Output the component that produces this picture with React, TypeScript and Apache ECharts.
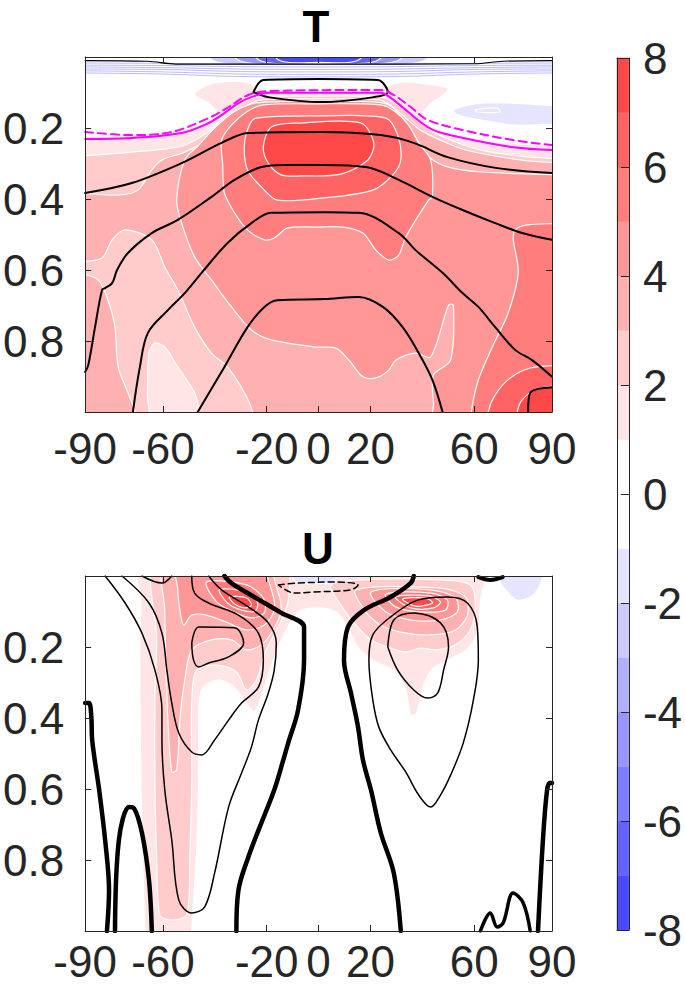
import React, { useEffect, useRef } from 'react';
import * as echarts from 'echarts';

// ---------------- axes / ticks ----------------
const latTicks = [-90, -60, -20, 0, 20, 60, 90];
const sigmaTicks = [0.2, 0.4, 0.6, 0.8];
const colorbarEdges = [-8, -7, -6, -5, -4, -3, -2, -1, 1, 2, 3, 4, 5, 6, 7, 8];

// ---------------- T panel: filled contour regions [lat, sigma] ----------------
const tFill1 = [[-100,1.05],[-100,0.223],[-93,0.223],[-72.0,0.220],[-54.7,0.208],[-45.1,0.189],[-39.3,0.163],[-42.0,0.132],[-47.8,0.107],[-45.1,0.087],[-40.1,0.073],[-31.7,0.068],[-25.9,0.076],[-22.8,0.096],[0,0.096],[23,0.096],[27.8,0.079],[33.6,0.070],[41.3,0.076],[50.1,0.090],[47.0,0.113],[43.2,0.132],[40.1,0.161],[42.4,0.192],[48.9,0.214],[62.4,0.234],[77.7,0.245],[93,0.251],[100,0.251],[100,1.05]];
const tFill2 = [[-100,1.05],[-100,0.279],[-93,0.279],[-72.0,0.268],[-52.8,0.251],[-43.2,0.214],[-35.5,0.163],[-29.7,0.130],[-24.0,0.113],[0,0.110],[24.0,0.113],[29.7,0.130],[35.5,0.163],[41.3,0.197],[48.9,0.228],[62.4,0.262],[77.7,0.279],[93,0.287],[100,0.287],[100,1.05],[-45.5,1.05],[-46.0,1.0],[-47.8,0.946],[-54.3,0.873],[-59.3,0.817],[-63.1,0.806],[-65.4,0.834],[-66.0,0.95],[-66.2,1.05]];
const tFill3 = [[-100,0.383],[-93,0.383],[-77.3,0.389],[-69.7,0.375],[-64.3,0.318],[-60.4,0.290],[-51.6,0.268],[-43.2,0.234],[-35.5,0.183],[-27.8,0.138],[-22.1,0.121],[0,0.118],[23.2,0.121],[28.6,0.141],[33.6,0.172],[39.3,0.206],[47.8,0.237],[56.6,0.262],[77.7,0.290],[93,0.299],[100,0.299],[100,1.05],[-25.3,1.05],[-25.5,1.0],[-28.6,0.946],[-35.1,0.873],[-41.3,0.834],[-47.8,0.761],[-54.3,0.656],[-59.3,0.592],[-64.3,0.515],[-74.6,0.487],[-79.6,0.515],[-83.5,0.566],[-93,0.577],[-100,0.577]];
const tFill3Strip = [[-100,0.608],[-93,0.608],[-85.0,0.628],[-81.2,0.685],[-78.5,0.761],[-77.3,0.873],[-73.5,0.946],[-70.8,1.0],[-70.6,1.05],[-100,1.05]];
const tFill4 = [[100,0.332],[100,1.05],[44.3,1.05],[44.3,0.98],[44.3,0.896],[50.9,0.854],[52.0,0.699],[50.1,0.699],[43.2,0.845],[37.4,0.834],[29.7,0.854],[27.1,0.882],[22.1,0.904],[17.1,0.901],[11.7,0.854],[6.7,0.820],[-1.0,0.817],[-18.2,0.797],[-25.9,0.769],[-33.6,0.704],[-41.3,0.628],[-47.8,0.563],[-52.8,0.468],[-54.7,0.403],[-51.6,0.290],[-46.2,0.248],[-40.1,0.200],[-32.8,0.155],[-25.9,0.132],[-20.2,0.127],[0,0.124],[22.1,0.127],[27.8,0.138],[33.6,0.183],[39.3,0.248],[43.2,0.285],[50.1,0.310],[63.1,0.324],[93,0.332]];
const tFill5 = [[-37.4,0.234],[-37.0,0.299],[-36.3,0.383],[-32.4,0.439],[-27.4,0.487],[-20.9,0.515],[-17.1,0.510],[-12.1,0.482],[-1.0,0.479],[9.4,0.479],[17.1,0.496],[22.1,0.544],[27.1,0.572],[30.9,0.558],[33.6,0.507],[42.4,0.403],[43.9,0.394],[43.2,0.290],[38.6,0.242],[34.7,0.192],[29.7,0.155],[24.0,0.135],[0,0.132],[-21.3,0.135],[-27.8,0.155],[-33.6,0.192]];
const tFill5Edge = [[100,0.468],[93,0.468],[75.8,0.487],[77.0,0.608],[73.1,0.721],[67.0,0.817],[61.6,0.910],[58.9,1.0],[58.8,1.05],[100,1.05]];
const tFill6 = [[-24.0,0.172],[0,0.166],[25.9,0.172],[30.5,0.220],[31.7,0.290],[28.6,0.332],[20.9,0.375],[2.1,0.397],[-15.9,0.403],[-22.1,0.366],[-27.4,0.318],[-28.6,0.248],[-26.7,0.192]];
const tFill6Corner = [[100,0.868],[93,0.868],[81.6,0.876],[73.9,0.904],[68.1,0.952],[65.4,1.0],[65.3,1.05],[100,1.05]];
const tFill7 = [[-18.2,0.197],[-6.7,0.186],[16.3,0.186],[21.3,0.242],[19.0,0.290],[8.6,0.330],[-6.7,0.335],[-14.4,0.332],[-19.4,0.299],[-21.3,0.254]];
const tFill7Corner = [[100,0.924],[93,0.924],[83.5,0.938],[78.5,0.966],[76.6,1.0],[76.5,1.05],[100,1.05]];
const tNegBlob = [[52.0,0.149],[62.4,0.130],[75.0,0.130],[93,0.138],[100,0.138],[100,0.189],[93,0.189],[75.0,0.192],[62.4,0.177],[53.5,0.163]];
const tNegBlobCore = [[60.4,0.149],[68.9,0.144],[70.0,0.155],[61.2,0.155]];
const tNegTop2 = [[-48,-0.05],[48,-0.05],[40,0.012],[20,0.022],[0,0.025],[-20,0.022],[-40,0.012]];
const tNegTop4 = [[-36,-0.05],[36,-0.05],[30,0.012],[0,0.021],[-30,0.012]];
const tNegTop6 = [[-28,-0.05],[28,-0.05],[22,0.012],[0,0.018],[-22,0.012]];
const tNegTop7 = [[-20,-0.05],[20,-0.05],[15,0.010],[0,0.015],[-15,0.010]];

// ---------------- T panel: line contours ----------------
const tStratLats = [-90, -60, -30, 0, 30, 60, 90];
const tStrat1 = [0.017,0.018,0.020,0.021,0.020,0.018,0.017];
const tStrat2 = [0.023,0.024,0.027,0.028,0.027,0.024,0.023];
const tStrat3 = [0.028,0.030,0.034,0.035,0.034,0.030,0.028];
const tStrat4 = [0.034,0.035,0.041,0.042,0.041,0.035,0.034];
const tStrat5 = [0.039,0.042,0.048,0.049,0.048,0.042,0.039];
const tStrat6 = [0.045,0.048,0.055,0.056,0.055,0.048,0.045];
const tBlackTop = [[-90,0.010],[-66,0.012],[-55,0.020],[0,0.020],[60,0.019],[71,0.012],[90,0.010]];
const tBlackHat = [[-25.1,0.099],[-21.3,0.065],[0.2,0.062],[22.8,0.065],[26.7,0.099],[21.3,0.113],[1.0,0.127],[-19.4,0.113],[-25.1,0.099]];
const tBlack1 = [[-90,0.383],[-72.0,0.355],[-52.8,0.299],[-37.4,0.242],[-27.1,0.214],[1.0,0.211],[24.0,0.220],[36.7,0.242],[49.7,0.282],[68.9,0.313],[90,0.327]];
const tBlack2 = [[-90,0.887],[-88.8,0.868],[-86.2,0.761],[-83.5,0.656],[-82.3,0.651],[-79.6,0.637],[-77.7,0.600],[-73.5,0.552],[-64.3,0.496],[-54.3,0.459],[-41.3,0.394],[-32.4,0.346],[-22.1,0.310],[-13.2,0.304],[2.1,0.304],[18.2,0.310],[30.9,0.346],[43.9,0.394],[55.5,0.431],[68.1,0.468],[78.5,0.496],[90,0.515]];
const tBlack3 = [[-71.6,1.0],[-68.9,0.873],[-65.8,0.777],[-58.1,0.713],[-51.6,0.665],[-45.1,0.608],[-35.1,0.524],[-25.9,0.468],[-18.2,0.439],[2.1,0.437],[15.5,0.439],[30.9,0.496],[37.4,0.544],[47.8,0.608],[55.5,0.665],[61.6,0.704],[68.1,0.761],[75.8,0.825],[82.3,0.854],[90,0.901]];
const tBlack4 = [[-46.6,1.0],[-36.3,0.873],[-27.4,0.761],[-20.9,0.704],[-15.9,0.685],[2.1,0.682],[15.5,0.676],[24.8,0.704],[32.4,0.761],[38.6,0.834],[43.9,0.910],[47.8,1.0]];
const tBlack5 = [[80.8,1.0],[81.6,0.946],[90,0.930]];
const tMagentaSolid = [[-90,0.231],[-72.0,0.228],[-52.8,0.214],[-42.4,0.186],[-36.3,0.158],[-30.9,0.130],[-25.9,0.113],[-19.4,0.101],[24.0,0.101],[27.8,0.115],[32.8,0.144],[38.2,0.177],[44.3,0.206],[55.8,0.228],[75.0,0.254],[90,0.262]];
const tMagentaDashed = [[-90,0.211],[-72.0,0.220],[-56.6,0.211],[-42.4,0.172],[-34.7,0.141],[-27.1,0.107],[-19.4,0.096],[24.0,0.093],[29.0,0.107],[35.5,0.141],[42.0,0.177],[55.8,0.206],[75.0,0.234],[90,0.248]];

// ---------------- U panel: filled contour regions ----------------
const uFill1 = [[-68.9,-0.05],[63.9,-0.05],[62.4,0.068],[61.6,0.152],[57.0,0.208],[49.7,0.237],[44.3,0.259],[40.5,0.307],[37.8,0.386],[35.5,0.392],[33.6,0.321],[29.7,0.270],[22.1,0.242],[15.5,0.203],[10.6,0.138],[6.7,0.101],[0.2,0.090],[-6.7,0.096],[-9.4,0.115],[-12.5,0.152],[-17.5,0.237],[-21.3,0.321],[-24.8,0.383],[-28.6,0.349],[-33.6,0.307],[-39.3,0.293],[-45.1,0.321],[-46.2,0.406],[-46.2,0.575],[-47.0,0.772],[-48.2,0.913],[-48.9,1.0],[-49.0,1.05],[-67.0,1.05],[-67.0,1.0],[-67.7,0.828],[-68.5,0.575],[-68.9,0.349],[-68.9,0.180],[-68.5,0.068]];
const uFill2L = [[-62.4,-0.05],[-13.2,-0.05],[-11.7,0.068],[-15.2,0.138],[-20.2,0.208],[-24.0,0.293],[-27.8,0.321],[-31.7,0.270],[-39.3,0.251],[-47.0,0.265],[-48.9,0.349],[-48.9,0.575],[-49.7,0.800],[-50.9,0.955],[-56.6,0.969],[-61.2,0.955],[-62.4,0.800],[-63.1,0.575],[-63.1,0.349],[-62.4,0.180]];
const uFill2R = [[4.8,0.025],[16.3,0.011],[47.0,0.011],[58.5,0.025],[60.4,0.082],[58.5,0.152],[52.8,0.194],[45.1,0.208],[39.3,0.203],[33.6,0.214],[27.8,0.203],[20.2,0.180],[14.4,0.138],[8.6,0.082]];
const uFill3L = [[-59.3,-0.05],[-21.3,-0.05],[-15.9,0.039],[-14.4,0.096],[-17.5,0.152],[-22.1,0.194],[-27.8,0.208],[-33.6,0.180],[-41.3,0.180],[-48.9,0.208],[-51.6,0.293],[-53.5,0.406],[-54.7,0.546],[-56.6,0.552],[-58.1,0.406],[-58.9,0.237],[-59.3,0.096]];
const uFill3R = [[14.4,0.039],[47.0,0.034],[56.6,0.059],[57.4,0.110],[52.8,0.152],[43.2,0.166],[31.7,0.158],[24.0,0.138],[18.2,0.101]];
const uFill4L = [[-54.7,-0.05],[-24.0,-0.05],[-18.2,0.039],[-17.1,0.096],[-20.9,0.138],[-27.8,0.152],[-35.5,0.130],[-43.2,0.110],[-48.9,0.110],[-52.0,0.138],[-53.5,0.096],[-54.3,0.039]];
const uFill4R = [[20.2,0.045],[43.2,0.039],[52.8,0.062],[53.5,0.101],[47.0,0.124],[35.5,0.124],[25.9,0.101]];
const uFill5L = [[-43.2,0.017],[-27.8,0.025],[-21.3,0.062],[-20.9,0.104],[-25.9,0.118],[-32.8,0.101],[-39.3,0.073]];
const uFill5R = [[25.9,0.051],[43.2,0.048],[49.7,0.068],[48.9,0.096],[39.3,0.101],[29.7,0.087]];
const uFill6L = [[-38.2,0.039],[-27.8,0.045],[-23.6,0.073],[-24.4,0.099],[-29.7,0.096],[-35.1,0.076]];
const uFill6R = [[29.7,0.059],[42.4,0.056],[47.0,0.073],[44.3,0.090],[35.5,0.090]];
const uFill7L = [[-34.4,0.059],[-27.8,0.062],[-25.9,0.082],[-28.6,0.090],[-32.4,0.079]];
const uFill7R = [[32.4,0.065],[41.3,0.062],[43.9,0.076],[37.4,0.085]];
const uNegTopRight = [[68.1,-0.05],[87.3,-0.05],[85.4,0.025],[81.6,0.059],[76.6,0.068],[72.8,0.045],[70.0,0.017]];
const uNegTopCenter = [[-12.5,-0.05],[7.9,-0.05],[5.9,0.014],[-1.0,0.020],[-8.6,0.017]];

// ---------------- U panel: line contours ----------------
const uThick1 = [[-36.3,0],[-33.6,0.020],[-24.8,0.059],[-14.4,0.104],[-5.6,0.144],[-5.6,0.237],[-7.9,0.377],[-11.7,0.470],[-13.6,0.518],[-17.1,0.603],[-22.1,0.696],[-27.1,0.792],[-30.9,0.885],[-31.7,1.0]];
const uThick2 = [[36.7,0],[35.5,0.020],[27.8,0.059],[17.5,0.096],[11.3,0.144],[9.8,0.237],[12.5,0.330],[15.2,0.425],[17.1,0.518],[20.2,0.603],[24.0,0.724],[29.0,0.837],[31.7,1.0]];
const uThick3 = [[-90,0.358],[-88.5,0.358],[-87.6,0.40],[-87.3,0.462],[-84.6,0.603],[-82.3,0.744],[-80.8,0.885],[-81.6,1.0]];
const uThick4 = [[-78.5,1.0],[-77.0,0.744],[-73.1,0.651],[-71.2,0.654],[-68.1,0.724],[-65.4,0.856],[-64.3,1.0]];
const uThick5 = [[62.4,1.0],[66.2,0.949],[68.9,0.989],[71.2,0.977],[75.0,0.893],[78.9,0.921],[81.6,1.0]];
const uThick6 = [[84.6,1.0],[86.5,0.744],[88.1,0.603],[89.2,0.583],[90,0.583]];
const uThick7 = [[61.6,0.003],[66.2,0.011],[71.0,0.003]];
const uThinTopLeft = [[-68.1,0.0],[-60.4,0.020],[-56.6,0.0]];
const uLeftOuter = [[-82.3,0.0],[-74.6,0.076],[-68.1,0.161],[-63.1,0.265],[-60.4,0.377],[-60.4,0.462],[-59.3,0.603],[-56.6,0.744],[-53.9,0.913],[-48.9,0.949],[-43.9,0.932],[-40.1,0.837],[-34.7,0.651],[-29.7,0.555],[-25.9,0.482],[-23.2,0.406],[-19.4,0.330],[-17.1,0.265],[-16.3,0.189],[-19.4,0.132],[-27.1,0.087],[-37.4,0.039],[-42.4,0.0]];
const uLeftInner = [[-75.8,0.0],[-65.4,0.076],[-60.4,0.161],[-58.5,0.265],[-56.6,0.358],[-53.9,0.442],[-48.9,0.496],[-45.1,0.504],[-40.1,0.462],[-34.7,0.406],[-29.7,0.358],[-23.2,0.313],[-21.3,0.237],[-23.2,0.161],[-30.9,0.110],[-42.4,0.076],[-47.8,0.048],[-48.9,0.0]];
const uLeftCore = [[-48.9,0.189],[-46.2,0.144],[-32.4,0.146],[-28.9,0.189],[-34.7,0.228],[-42.4,0.245],[-46.2,0.256],[-48.2,0.237],[-48.9,0.189]];
const uRightOuter = [[20.9,0.349],[19.4,0.237],[20.9,0.166],[27.8,0.115],[38.2,0.068],[49.7,0.059],[57.4,0.076],[61.2,0.144],[61.6,0.237],[59.7,0.349],[55.8,0.470],[50.9,0.561],[47.0,0.617],[43.2,0.651],[38.6,0.617],[33.6,0.552],[27.8,0.490],[23.2,0.425],[20.9,0.349]];
const uRightCore = [[26.7,0.200],[29.0,0.124],[36.7,0.104],[47.0,0.132],[50.1,0.200],[48.2,0.265],[45.9,0.330],[42.0,0.344],[36.7,0.321],[30.5,0.265],[26.7,0.200]];
const uDashed = [[-15.5,0.025],[-7.9,0.020],[5.9,0.017],[15.2,0.025],[12.5,0.039],[-1.7,0.045],[-9.4,0.048],[-15.5,0.025]];

// ---------------- styling ----------------
const FONT = "'Liberation Sans', Arial, Helvetica, sans-serif";
const AXIS_COLOR = '#262626';
const RED = ['#ffe5e5', '#ffcbcb', '#ffb1b1', '#ff9797', '#ff7d7d', '#ff6363', '#ff4949'];
const BLUE = ['#e5e5ff', '#cbcbff', '#b1b1ff', '#9797ff', '#7d7dff', '#6363ff', '#4949ff'];
const levelColor = (lv: number) => (lv > 0 ? RED[lv - 1] : BLUE[-lv - 1]);
const bandColor = (lo: number, hi: number) => (lo >= 1 ? RED[lo - 1] : hi <= -1 ? BLUE[-hi - 1] : '#ffffff');

const tFills = [
  { level: 1, pts: tFill1 }, { level: 2, pts: tFill2 }, { level: 3, pts: tFill3 }, { level: 3, pts: tFill3Strip },
  { level: 4, pts: tFill4 }, { level: 5, pts: tFill5 }, { level: 5, pts: tFill5Edge }, { level: 6, pts: tFill6 },
  { level: 6, pts: tFill6Corner }, { level: 7, pts: tFill7 }, { level: 7, pts: tFill7Corner },
  { level: -1, pts: tNegBlob }, { level: -1, pts: tNegBlobCore }, { level: -2, pts: tNegTop2 },
  { level: -4, pts: tNegTop4 }, { level: -6, pts: tNegTop6 }, { level: -7, pts: tNegTop7 },
];
const uFills = [
  { level: 1, pts: uFill1 }, { level: 2, pts: uFill2L }, { level: 2, pts: uFill2R }, { level: 3, pts: uFill3L },
  { level: 3, pts: uFill3R }, { level: 4, pts: uFill4L }, { level: 4, pts: uFill4R }, { level: 5, pts: uFill5L },
  { level: 5, pts: uFill5R }, { level: 6, pts: uFill6L }, { level: 6, pts: uFill6R }, { level: 7, pts: uFill7L },
  { level: 7, pts: uFill7R }, { level: -1, pts: uNegTopRight }, { level: -1, pts: uNegTopCenter },
];

function fillSeries(fills: any[], ai: number) {
  return {
    type: 'custom',
    xAxisIndex: ai,
    yAxisIndex: ai,
    silent: true,
    clip: true,
    z: 2,
    data: fills.map((_: any, i: number) => [i, 0.5]),
    renderItem: (params: any, api: any) => {
      const f = fills[params.dataIndex];
      const cs = params.coordSys;
      const points = f.pts.map((p: number[]) => api.coord(p));
      return {
        type: 'polygon',
        shape: { points, smooth: 0.3 },
        style: { fill: levelColor(f.level), stroke: '#ffffff', lineWidth: 1.2 },
        clipPath: { type: 'rect', shape: { x: cs.x, y: cs.y, width: cs.width, height: cs.height } },
      };
    },
  };
}

function lineSeries(pts: number[][], ai: number, color: string, width: number, dash?: any, z = 4) {
  return {
    type: 'line',
    xAxisIndex: ai,
    yAxisIndex: ai,
    data: pts,
    showSymbol: false,
    symbol: 'none',
    smooth: 0.35,
    silent: true,
    z,
    lineStyle: { color, width, type: dash || 'solid', cap: 'round', join: 'round' },
  };
}

const axisLine = { show: true, onZero: false, lineStyle: { color: AXIS_COLOR, width: 1 } };
const labelStyle = { fontSize: 44, fontFamily: FONT, color: AXIS_COLOR };

function latAxis(gridIndex: number, position: string, labels: boolean, margin = 18) {
  return {
    type: 'value', gridIndex, position, min: -90, max: 90, z: 10,
    axisLine, splitLine: { show: false },
    axisTick: { show: true, inside: true, length: 6, customValues: latTicks, lineStyle: { color: AXIS_COLOR } },
    axisLabel: { show: labels, customValues: latTicks, margin, lineHeight: 36, ...labelStyle },
  };
}
function sigmaAxis(gridIndex: number, position: string, labels: boolean) {
  return {
    type: 'value', gridIndex, position, inverse: true, min: 0, max: 1, z: 10,
    axisLine, splitLine: { show: false },
    axisTick: { show: true, inside: true, length: 6, customValues: sigmaTicks, lineStyle: { color: AXIS_COLOR } },
    axisLabel: { show: labels, customValues: sigmaTicks, margin: 21, formatter: (v: number) => v.toFixed(1), ...labelStyle },
  };
}

export default function App() {
  const ref = useRef<HTMLDivElement>(null);
  useEffect(() => {
    if (!ref.current) return;
    const chart = echarts.init(ref.current, undefined, { renderer: 'svg' });
    const stratLines = [tStrat1, tStrat2, tStrat3, tStrat4, tStrat5, tStrat6].map((s) =>
      lineSeries(s.map((v, i) => [tStratLats[i], v]), 0, '#a8a8ff', 0.8, undefined, 3)
    );
    const option: any = {
      animation: false,
      backgroundColor: '#ffffff',
      grid: [
        { left: 83, top: 57, width: 469, height: 355 },
        { left: 83, top: 576, width: 469, height: 355 },
        { left: 617, top: 58, width: 20, height: 872 },
      ],
      xAxis: [
        latAxis(0, 'bottom', true, 18),
        latAxis(1, 'bottom', true, 12),
        { type: 'value', gridIndex: 2, position: 'bottom', min: 0, max: 1, z: 10, axisLine, axisTick: { show: false }, axisLabel: { show: false }, splitLine: { show: false } },
        { ...latAxis(0, 'top', false) },
        { ...latAxis(1, 'top', false) },
        { type: 'value', gridIndex: 2, position: 'top', min: 0, max: 1, z: 10, axisLine, axisTick: { show: false }, axisLabel: { show: false }, splitLine: { show: false } },
      ],
      yAxis: [
        sigmaAxis(0, 'left', true),
        sigmaAxis(1, 'left', true),
        {
          type: 'value', gridIndex: 2, position: 'right', min: -8, max: 8, interval: 2, z: 10,
          axisLine, splitLine: { show: false },
          axisTick: { show: true, inside: true, length: 8, lineStyle: { color: AXIS_COLOR } },
          axisLabel: { margin: 14, ...labelStyle },
        },
        sigmaAxis(0, 'right', false),
        sigmaAxis(1, 'right', false),
        { type: 'value', gridIndex: 2, position: 'left', min: -8, max: 8, z: 10, axisLine, axisTick: { show: false }, axisLabel: { show: false }, splitLine: { show: false } },
      ],
      graphic: [
        { type: 'text', x: 316, y: 26, z: 20, style: { text: 'T', font: `bold 44px ${FONT}`, fill: '#000', align: 'center', verticalAlign: 'middle', textAlign: 'center', textVerticalAlign: 'middle' } },
        { type: 'text', x: 318, y: 548, z: 20, style: { text: 'U', font: `bold 44px ${FONT}`, fill: '#000', align: 'center', verticalAlign: 'middle', textAlign: 'center', textVerticalAlign: 'middle' } },
      ],
      series: [
        fillSeries(tFills, 0),
        fillSeries(uFills, 1),
        {
          type: 'custom', xAxisIndex: 2, yAxisIndex: 2, silent: true, z: 2,
          data: colorbarEdges.slice(0, -1).map((_, i) => [0.5, i - 7]),
          renderItem: (params: any, api: any) => {
            const i = params.dataIndex;
            const lo = colorbarEdges[i];
            const hi = colorbarEdges[i + 1];
            const p1 = api.coord([0, hi]);
            const p2 = api.coord([1, lo]);
            return { type: 'rect', shape: { x: p1[0], y: p1[1], width: p2[0] - p1[0], height: p2[1] - p1[1] }, style: { fill: bandColor(lo, hi), stroke: bandColor(lo, hi), lineWidth: 0.5 } };
          },
        },
        ...stratLines,
        lineSeries(tBlackTop, 0, '#000', 1.2),
        lineSeries(tBlackHat, 0, '#000', 2),
        lineSeries(tBlack1, 0, '#000', 2),
        lineSeries(tBlack2, 0, '#000', 2),
        lineSeries(tBlack3, 0, '#000', 2),
        lineSeries(tBlack4, 0, '#000', 2),
        lineSeries(tBlack5, 0, '#000', 2),
        lineSeries(tMagentaSolid, 0, '#ff00ff', 2, 'solid', 5),
        lineSeries(tMagentaDashed, 0, '#ff00ff', 2, [8, 5], 5),
        lineSeries(uThick1, 1, '#000', 4.5),
        lineSeries(uThick2, 1, '#000', 4.5),
        lineSeries(uThick3, 1, '#000', 4.5),
        lineSeries(uThick4, 1, '#000', 4.5),
        lineSeries(uThick5, 1, '#000', 3.5),
        lineSeries(uThick6, 1, '#000', 4.5),
        lineSeries(uThick7, 1, '#000', 4),
        lineSeries(uThinTopLeft, 1, '#000', 1.5),
        lineSeries(uLeftOuter, 1, '#000', 1.5),
        lineSeries(uLeftInner, 1, '#000', 1.5),
        lineSeries(uLeftCore, 1, '#000', 1.5),
        lineSeries(uRightOuter, 1, '#000', 1.5),
        lineSeries(uRightCore, 1, '#000', 1.5),
        lineSeries(uDashed, 1, '#000', 1.5, [6, 4]),
      ],
    };
    chart.setOption(option);
    return () => chart.dispose();
  }, []);
  return <div ref={ref} style={{ position: 'absolute', left: 0, top: 0, width: 685, height: 988 }} />;
}
